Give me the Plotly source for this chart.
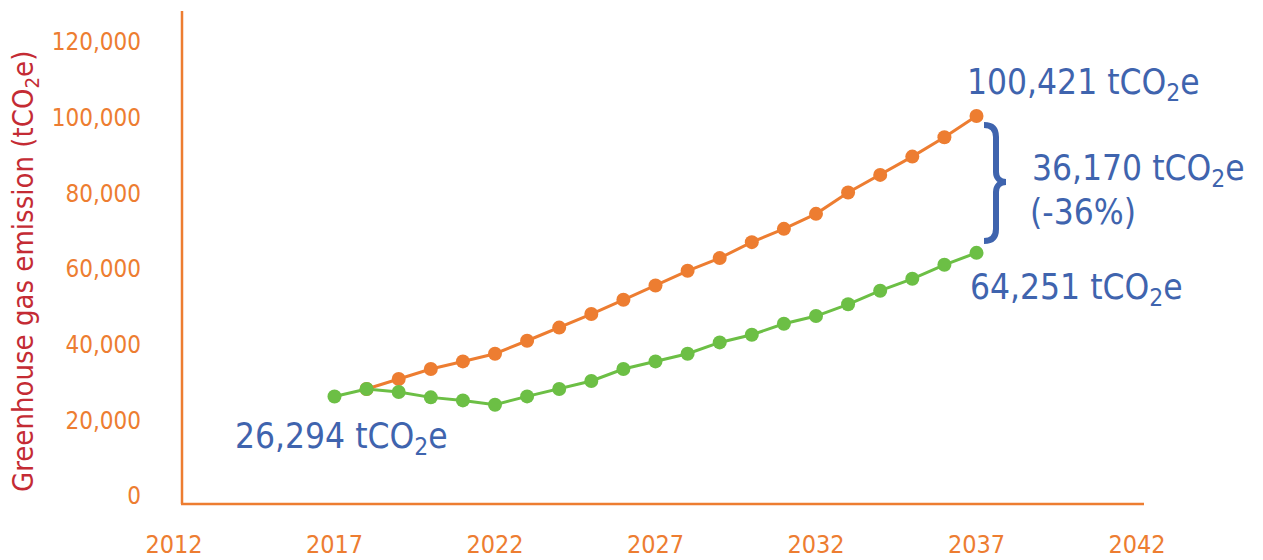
import plotly.graph_objects as go

# ---- data ----
years_green = list(range(2017, 2038))
green_values = [26294, 28270, 27480, 26060, 25260, 24130, 26320, 28270, 30400, 33550,
                35560, 37590, 40580, 42610, 45510, 47550, 50650, 54250, 57390, 61090, 64251]
years_orange = list(range(2018, 2038))
orange_values = [28270, 30910, 33550, 35560, 37590, 41020, 44500, 48070, 51850, 55620,
                 59500, 62860, 67080, 70590, 74550, 80180, 84850, 89680, 94800, 100421]
x_ticks = [2012, 2017, 2022, 2027, 2032, 2037, 2042]
y_ticks = [0, 20000, 40000, 60000, 80000, 100000, 120000]

ORANGE = "#ED7D31"
GREEN = "#6CBF45"
BLUE = "#3F64AE"
RED = "#C42B34"
FONT = "DejaVu Sans Condensed, DejaVu Sans, sans-serif"

W, H = 1263, 560
L, R, T, B = 174, 126, 4, 64
PW, PH = W - L - R, H - T - B
XR = [2012, 2042]
YR = [0, 130000]

def X(px):
    return XR[0] + (px - L) / PW * (XR[1] - XR[0])

def Y(py):
    return YR[0] + (T + PH - py) / PH * (YR[1] - YR[0])

def PX(px):
    return (px - L) / PW

def PY(py):
    return (T + PH - py) / PH

fig = go.Figure()
fig.add_trace(go.Scatter(x=years_orange, y=orange_values, mode="lines+markers",
                         line=dict(color=ORANGE, width=3),
                         marker=dict(color=ORANGE, size=14), hoverinfo="skip"))
fig.add_trace(go.Scatter(x=years_green, y=green_values, mode="lines+markers",
                         line=dict(color=GREEN, width=3),
                         marker=dict(color=GREEN, size=14), hoverinfo="skip"))

# axis lines (offset like the reference)
fig.add_shape(type="line", xref="paper", yref="paper", x0=PX(182), x1=PX(182),
              y0=PY(504), y1=PY(11), line=dict(color=ORANGE, width=2.5))
fig.add_shape(type="line", xref="paper", yref="paper", x0=PX(181), x1=PX(1144),
              y0=PY(504), y1=PY(504), line=dict(color=ORANGE, width=2.5))

# brace
pts = lambda px, py: f"{X(px)},{Y(py)}"
path = ("M " + pts(984, 125) +
        " C " + pts(992, 125) + " " + pts(996, 129) + " " + pts(996, 137) +
        " L " + pts(996, 172) +
        " C " + pts(996, 178) + " " + pts(1000, 182) + " " + pts(1006, 182) +
        " C " + pts(1000, 182) + " " + pts(996, 186) + " " + pts(996, 192) +
        " L " + pts(996, 229) +
        " C " + pts(996, 237) + " " + pts(992, 241) + " " + pts(984, 241))
fig.add_shape(type="path", xref="x", yref="y", path=path,
              line=dict(color=BLUE, width=6))

def note(text, px, py, size=35):
    fig.add_annotation(x=X(px), y=Y(py), xref="x", yref="y", text=text,
                       showarrow=False, xanchor="left", yanchor="middle",
                       font=dict(family=FONT, size=size, color=BLUE))

note("100,421 tCO<sub>2</sub>e", 965, 84)
note("36,170 tCO<sub>2</sub>e", 1030, 170)
note("(-36%)", 1028, 212)
note("64,251 tCO<sub>2</sub>e", 968, 289)
note("26,294 tCO<sub>2</sub>e", 233, 438)

fig.add_annotation(x=PX(25), y=PY(272), xref="paper", yref="paper",
                   text="Greenhouse gas emission (tCO<sub>2</sub>e)", textangle=-90,
                   showarrow=False, xanchor="center", yanchor="middle",
                   font=dict(family=FONT, size=29, color=RED))

fig.update_layout(
    width=W, height=H, margin=dict(l=L, r=R, t=T, b=B, autoexpand=False),
    paper_bgcolor="white", plot_bgcolor="white", showlegend=False,
    font=dict(family=FONT),
    xaxis=dict(range=XR, tickvals=x_ticks, ticktext=[str(v) for v in x_ticks],
               showgrid=False, zeroline=False, showline=False, ticks="",
               automargin=False,
               tickfont=dict(family=FONT, size=25, color=ORANGE),
               ticklabelstandoff=31, fixedrange=True),
    yaxis=dict(range=YR, tickvals=y_ticks, ticktext=[f"{v:,}" for v in y_ticks],
               showgrid=False, zeroline=False, showline=False, ticks="",
               automargin=False,
               tickfont=dict(family=FONT, size=24, color=ORANGE),
               ticklabelstandoff=32, fixedrange=True),
)

fig.write_html("out.html", config={"displayModeBar": False})
